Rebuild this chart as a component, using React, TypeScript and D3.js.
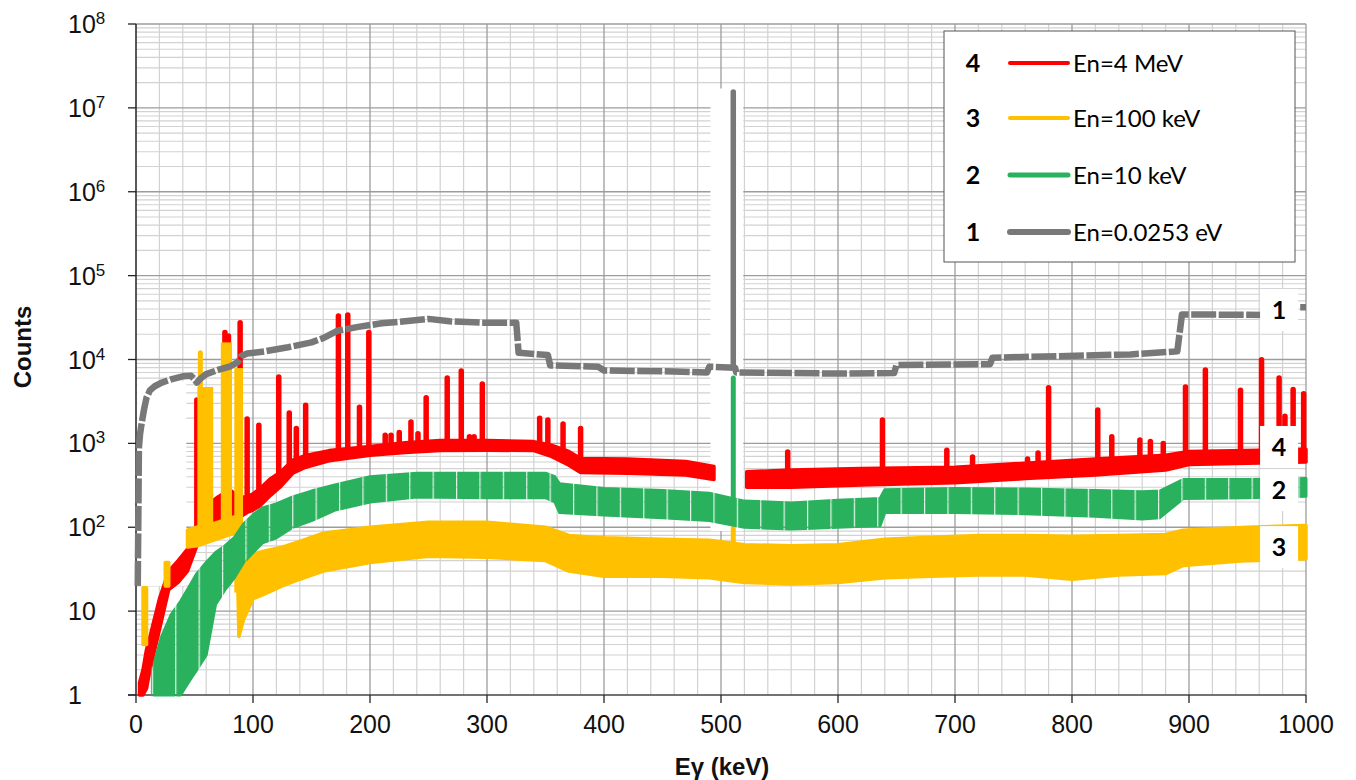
import React from "react";
import * as d3 from "d3";

type Pt = [number, number];
type BandPt = [number, number, number] | null;

// ---------- data ----------
const X_DOMAIN: [number, number] = [0, 1000];
const Y_DOMAIN: [number, number] = [1, 1e8];
const X_TICKS = [0, 100, 200, 300, 400, 500, 600, 700, 800, 900, 1000];
const Y_DECADES = [0, 1, 2, 3, 4, 5, 6, 7, 8];

const SERIES_NAMES = ["En=4 MeV", "En=100 keV", "En=10 keV", "En=0.0253 eV"];
const SERIES_NUMS = ["4", "3", "2", "1"];
const SERIES_COLORS = ["#FF0000", "#FFC000", "#2AB15E", "#787878"];

// En = 0.0253 eV  (thermal) : continuum line [E keV, counts]
const grayLine: Pt[] = [
  [1.5, 20], [2.5, 900], [3.5, 1300], [5, 1800], [7, 2600], [9, 3500], [12, 4300],
  [16, 4800], [22, 5300], [30, 5800], [40, 6300], [47, 6400], [50, 5800], [52, 5300],
  [55, 5900], [60, 6700], [70, 7500], [80, 8200], [87, 9300], [90, 11000], [95, 11800],
  [110, 12500], [130, 14000], [150, 16000], [160, 18000], [172, 22000], [190, 24500],
  [210, 27000], [230, 28500], [250, 30500], [268, 28500], [295, 27500], [325, 27500],
  [327, 12000], [352, 11300], [354, 8500], [395, 8200], [400, 7400], [460, 7200],
  [488, 7000], [490, 8200], [512, 8000], [513, 7000], [600, 6800], [648, 6900],
  [650, 8600], [730, 8800], [732, 10500], [850, 11500], [890, 12500], [894, 34500],
  [965, 34000], [990, 42000], [1000, 42000],
];
const grayPeaks: Pt[] = [[510.5, 1.55e7]];

// En = 10 keV : band [E, low, high]
const greenBand: BandPt[] = [
  [14, 1, 2], [22, 1, 5], [30, 1, 9], [38, 1, 13], [46, 1.5, 20], [52, 2, 28],
  [60, 3, 38], [68, 12, 50], [76, 18, 60], [84, 25, 75], [92, 38, 110], [100, 50, 140],
  [108, 65, 170], [120, 75, 190], [134, 100, 230], [150, 120, 270], [170, 160, 320],
  [200, 200, 400], [240, 230, 440], [300, 225, 440], [350, 225, 440], [358, 200, 400],
  [362, 150, 330], [400, 140, 290], [450, 130, 275], [490, 120, 255], [520, 100, 205],
  [560, 95, 195], [600, 100, 210], [636, 105, 220], [640, 150, 280], [700, 150, 290],
  [760, 145, 285], [820, 135, 275], [860, 125, 265], [875, 130, 270], [895, 220, 370],
  [950, 225, 370], [1000, 235, 380],
];
const greenPeaks: Pt[] = [[510.5, 6000]];

// En = 100 keV
const yellowBand: BandPt[] = [
  [6, 4, 19], [9, 4, 19], null,
  [25, 20, 38], [28, 20, 38], null,
  [44, 58, 92], [52, 60, 100], [66, 70, 110], [84, 85, 133], [86, 80, 130],
  [88, 5, 33], [92, 8, 36], [100, 14, 48], [110, 16, 52], [125, 20, 58], [140, 24, 68],
  [160, 30, 85], [200, 38, 100], [250, 45, 115], [300, 44, 115], [350, 40, 100],
  [370, 30, 80], [400, 26, 75], [450, 26, 72], [490, 25, 70], [520, 22, 62],
  [560, 21, 60], [600, 22, 62], [640, 25, 72], [680, 26, 76], [720, 27, 80],
  [760, 27, 80], [800, 24, 78], [840, 27, 80], [880, 28, 82], [895, 35, 92],
  [950, 40, 100], [1000, 42, 105],
];
// wide low-energy lines [E start, E end, top]
const yellowBars: [number, number, number][] = [[52.5, 66, 4700], [72.5, 82, 16000], [84, 91.5, 7900]];
const yellowPeaks: Pt[] = [[55, 12000], [510.5, 98]];

// En = 4 MeV
const redBand: BandPt[] = [
  [3, 1, 1.4], [6, 1, 2], [9, 1.2, 3.5], [12, 2, 5], [20, 6, 14], [28, 18, 30],
  [36, 22, 40], [44, 30, 55], [52, 60, 100], [60, 90, 180], [70, 110, 230], [80, 130, 280],
  [88, 130, 230], [95, 150, 230], [100, 160, 250], [106, 180, 290], [115, 240, 380],
  [123, 300, 450], [134, 440, 630], [145, 520, 720], [165, 620, 820], [200, 720, 920],
  [230, 780, 1020], [260, 820, 1080], [300, 830, 1080], [340, 820, 1050], [355, 700, 950],
  [370, 550, 800], [380, 450, 660], [420, 440, 650], [470, 420, 610], [494, 370, 530], null,
  [522, 300, 460], [560, 300, 480], [620, 320, 500], [700, 340, 520], [760, 380, 580],
  [820, 420, 650], [880, 480, 720], [900, 560, 800], [950, 580, 820], [1000, 600, 850],
];
const redPeaks: Pt[] = [
  [52, 3300], [76, 21000], [79, 19000], [89, 27500], [95, 1950], [105, 1650], [122, 6200],
  [131, 2300], [137, 1500], [145, 2850], [173, 33000], [181, 34000], [191, 2700],
  [199, 21000], [213, 1250], [218, 1250], [225, 1350], [235, 1800], [241, 1300],
  [248, 3500], [266, 6000], [278, 7300], [285, 1200], [289, 1200], [296, 5100],
  [345, 2000], [352, 1900], [365, 1700], [380, 1500], [557, 790], [638, 1900],
  [693, 830], [715, 690], [762, 650], [771, 770], [780, 4600], [822, 2500], [834, 1200],
  [858, 1100], [867, 1050], [878, 1000], [897, 4700], [914, 7500], [944, 4300],
  [962, 9900], [977, 6000], [982, 2100], [989, 4400], [998, 3900],
];

// ---------- helpers ----------
function bandMidAt(band: BandPt[], E: number): number {
  for (let i = 0; i < band.length - 1; i++) {
    const a = band[i], b = band[i + 1];
    if (!a || !b) continue;
    if (a[0] <= E && E <= b[0]) {
      const t = (E - a[0]) / (b[0] - a[0]);
      const la = Math.log10(Math.sqrt(a[1] * a[2]));
      const lb = Math.log10(Math.sqrt(b[1] * b[2]));
      return Math.pow(10, la + t * (lb - la));
    }
  }
  return 1;
}
function lineAt(line: Pt[], E: number): number {
  for (let i = 0; i < line.length - 1; i++) {
    const a = line[i], b = line[i + 1];
    if (a[0] <= E && E <= b[0]) {
      const t = (E - a[0]) / (b[0] - a[0]);
      return Math.pow(10, Math.log10(a[1]) + t * (Math.log10(b[1]) - Math.log10(a[1])));
    }
  }
  return 1;
}

const SANS = "'Liberation Sans', Arial, Helvetica, sans-serif";
const LEG = "Lato, 'Open Sans', sans-serif";

export default function App() {
  const x = d3.scaleLinear().domain(X_DOMAIN).range([136, 1306]);
  const y = d3.scaleLog().domain(Y_DOMAIN).range([695, 24]);

  const xMinor = d3.range(20, 1000, 20).filter((v) => v % 100 !== 0);
  const xMajor = d3.range(100, 1001, 100);
  const yMinor: number[] = [];
  for (let k = 0; k < 8; k++) for (let m = 2; m <= 9; m++) yMinor.push(m * Math.pow(10, k));
  const yMajor = Y_DECADES.filter((k) => k > 0).map((k) => Math.pow(10, k));

  const area = d3
    .area<BandPt>()
    .defined((d) => d !== null)
    .x((d) => x((d as number[])[0]))
    .y0((d) => y((d as number[])[1]))
    .y1((d) => y((d as number[])[2]));
  const line = d3
    .line<Pt>()
    .x((d) => x(d[0]))
    .y((d) => y(d[1]));

  const [cRed, cYel, cGrn, cGry] = SERIES_COLORS;
  const stripeW = x(20) - x(0);

  const peakLines = (peaks: Pt[], base: (E: number) => number, color: string, w: number) =>
    peaks.map(([E, top], i) => (
      <line key={i} x1={x(E)} x2={x(E)} y1={y(base(E))} y2={y(top)} stroke={color}
        strokeWidth={w} strokeLinecap="round" />
    ));

  // white cut-outs present in the original figure (data space)
  const masks: [number, number, number, number][] = [
    [1, 43, 20, 5500],
    [491, 519, 90, 1.7e7],
  ];
  const rightLabels: [string, number][] = [["1", 3.9e4], ["4", 906], ["2", 278], ["3", 58]];

  const legendRows = [63, 118, 175, 232];
  const legendWidths = [4, 4, 5, 6];

  return (
    <svg width={1356} height={780} style={{ position: "absolute", left: 0, top: 0, background: "#fff" }}>
      <defs>
        <pattern id="gstripe" patternUnits="userSpaceOnUse" x={x(354) - 0.6} y={0} width={stripeW} height={780}>
          <rect width={stripeW} height={780} fill="white" />
          <rect width={1.2} height={780} fill="#202020" />
        </pattern>
        <mask id="gmask" maskUnits="userSpaceOnUse" x={0} y={0} width={1356} height={780}>
          <rect width={1356} height={780} fill="url(#gstripe)" />
        </mask>
      </defs>
      <rect width={1356} height={780} fill="#fff" />

      {/* grid */}
      {xMinor.map((v) => (
        <line key={"xm" + v} x1={x(v)} x2={x(v)} y1={y(1e8)} y2={y(1)} stroke="#d2d2d2" strokeWidth={1.2} />
      ))}
      {yMinor.map((v) => (
        <line key={"ym" + v} x1={x(0)} x2={x(1000)} y1={y(v)} y2={y(v)} stroke="#d2d2d2" strokeWidth={1.2} />
      ))}
      {xMajor.map((v) => (
        <line key={"xM" + v} x1={x(v)} x2={x(v)} y1={y(1e8)} y2={y(1)} stroke="#9c9c9c" strokeWidth={1.3} />
      ))}
      {yMajor.map((v) => (
        <line key={"yM" + v} x1={x(0)} x2={x(1000)} y1={y(v)} y2={y(v)} stroke="#9c9c9c" strokeWidth={1.3} />
      ))}

      {/* white cut-outs */}
      {masks.map(([e0, e1, c0, c1], i) => (
        <rect key={"mk" + i} x={x(e0)} y={y(c1)} width={x(e1) - x(e0)} height={y(c0) - y(c1)} fill="#fff" />
      ))}

      {/* axes */}
      <line x1={x(0)} x2={x(0)} y1={y(1e8)} y2={y(1)} stroke="#222" strokeWidth={1.5} />
      <line x1={x(0) - 8} x2={x(1000)} y1={y(1)} y2={y(1)} stroke="#444" strokeWidth={1.5} />
      {Y_DECADES.map((k) => (
        <line key={"yt" + k} x1={x(0) - 8} x2={x(0)} y1={y(Math.pow(10, k))} y2={y(Math.pow(10, k))} stroke="#222" strokeWidth={1.3} />
      ))}
      {X_TICKS.map((v) => (
        <line key={"xt" + v} x1={x(v)} x2={x(v)} y1={y(1)} y2={y(1) + 8} stroke="#222" strokeWidth={1.3} />
      ))}

      {/* series 4: red */}
      <g>
        <path d={area(redBand) || ""} fill={cRed} stroke={cRed} strokeWidth={3.5} strokeLinejoin="round" />
        {peakLines(redPeaks, (E) => bandMidAt(redBand, E), cRed, 5.5)}
      </g>
      {/* series 3: yellow */}
      <g>
        <path d={area(yellowBand) || ""} fill={cYel} stroke={cYel} strokeWidth={3.5} strokeLinejoin="round" />
        {yellowBars.map(([e0, e1, top], i) => (
          <rect key={"yb" + i} x={x(e0)} width={x(e1) - x(e0)} y={y(top)}
            height={y(bandMidAt(yellowBand, (e0 + e1) / 2)) - y(top)} fill={cYel} />
        ))}
        {peakLines(yellowPeaks, (E) => bandMidAt(yellowBand, E), cYel, 5)}
      </g>
      {/* series 2: green */}
      <g mask="url(#gmask)">
        <path d={area(greenBand) || ""} fill={cGrn} stroke={cGrn} strokeWidth={3} strokeLinejoin="round" />
      </g>
      {peakLines(greenPeaks, (E) => bandMidAt(greenBand, E), cGrn, 5)}
      {/* series 1: gray */}
      <path d={line(grayLine) || ""} fill="none" stroke={cGry} strokeWidth={6.5} strokeDasharray="25 2.5" strokeLinejoin="round" />
      {peakLines(grayPeaks, (E) => lineAt(grayLine, E), cGry, 5.5)}

      {/* right-side series labels */}
      {rightLabels.map(([t, c]) => (
        <g key={"rl" + t}>
          <rect x={x(977) - 19} y={y(c) - 21} width={38} height={42} fill="#fff" />
          <text x={x(977)} y={y(c)} dy="0.36em" textAnchor="middle" fontFamily={LEG} fontWeight={700} fontSize={25} fill="#000">{t}</text>
        </g>
      ))}

      {/* tick labels */}
      {X_TICKS.map((v) => (
        <text key={"xl" + v} x={x(v)} y={733} textAnchor="middle" fontFamily={SANS} fontSize={25} fill="#111">{v}</text>
      ))}
      {Y_DECADES.map((k) => (
        <text key={"yl" + k} x={68} y={y(Math.pow(10, k)) + 9} fontFamily={SANS} fontSize={25} fill="#111">
          {k === 0 ? "1" : "10"}
          {k >= 2 ? <tspan dy={-9} fontSize={17}>{k}</tspan> : null}
        </text>
      ))}

      {/* axis titles */}
      <text transform="translate(31,347) rotate(-90)" textAnchor="middle" fontFamily={SANS} fontWeight={700} fontSize={24} fill="#111">Counts</text>
      <text x={722} y={775} textAnchor="middle" fontFamily={SANS} fontWeight={700} fontSize={24} fill="#111">Eγ (keV)</text>

      {/* legend */}
      <rect x={944} y={31} width={351} height={231} fill="#fff" stroke="#555" strokeWidth={1} />
      {SERIES_NAMES.map((name, i) => (
        <g key={"lg" + i}>
          <text x={973} y={legendRows[i]} dy="0.36em" textAnchor="middle" fontFamily={LEG} fontWeight={700} fontSize={25} fill="#000">{SERIES_NUMS[i]}</text>
          <line x1={1010} x2={1068} y1={legendRows[i]} y2={legendRows[i]} stroke={SERIES_COLORS[i]} strokeWidth={legendWidths[i]} strokeLinecap="round" />
          <text x={1073} y={legendRows[i]} dy="0.36em" fontFamily={LEG} fontSize={24} fill="#000">{name}</text>
        </g>
      ))}
    </svg>
  );
}
